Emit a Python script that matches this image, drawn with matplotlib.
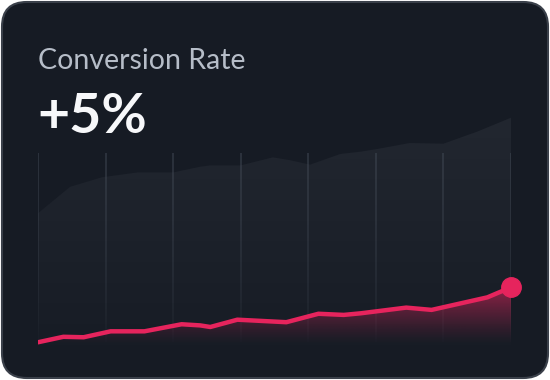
import numpy as np
import matplotlib
matplotlib.use('Agg')
import matplotlib.pyplot as plt
from matplotlib.patches import FancyBboxPatch
from matplotlib.collections import LineCollection

# Data (x = day, y = scaled value)
title = 'Conversion Rate'
headline = '+5%'

bg_days = [0, 1.9, 3.8, 5.9, 8.0, 9.6, 10.2, 12.0, 13.9, 14.9, 16.1, 17.9, 19.1, 20.1, 22.0, 24.0, 26.0, 28]
bg_values = [57.8, 69.4, 73.6, 75.7, 75.7, 78.2, 78.8, 78.8, 82.3, 81.1, 79.1, 83.8, 84.8, 86.0, 88.6, 88.3, 93.6, 99.7]

rate_days = [0, 1.5, 2.7, 4.3, 6.3, 8.5, 9.6, 10.2, 11.8, 14.7, 16.6, 18.1, 19.1, 21.8, 23.3, 26.6, 28]
rate_values = [1.2, 3.6, 3.4, 6.0, 6.0, 9.1, 8.6, 7.9, 11.1, 10.0, 13.7, 13.2, 13.9, 16.4, 15.4, 20.9, 25.3]

grid_days = [0, 4, 8, 12, 16, 20, 24, 28]

card_bg = '#161b24'
pink = '#e6245d'

W, H = 550, 380
fig = plt.figure(figsize=(W / 100, H / 100), dpi=100)
fig.patch.set_facecolor('white')

# card with rounded corners (kept behind the axes)
card = FancyBboxPatch((2 / W, 2 / H), (W - 4) / W, (H - 4) / H,
                      boxstyle='round,pad=0,rounding_size=0.045',
                      transform=fig.transFigure, facecolor=card_bg,
                      edgecolor='#3a404a', linewidth=1.5, mutation_aspect=W / H,
                      zorder=-10)
fig.patches.append(card)

fig.text(38 / W, 1 - 69 / H, title, color='#b6bdc8', fontsize=20.5,
         family='Lato', va='baseline', ha='left')
fig.text(37 / W, 1 - 133 / H, headline, color='#f7f8fa', fontsize=40,
         family='Lato', fontweight='bold', va='baseline', ha='left')

# plot area
left, right, top, bottom = 38, 511, 117, 345
ax = fig.add_axes([left / W, 1 - bottom / H, (right - left) / W, (bottom - top) / H])
ax.set_xlim(0, 28)
ax.set_ylim(0, 100)
ax.axis('off')
ax.patch.set_alpha(0)

# grey background area with vertical gradient
grad = np.linspace(0, 1, 256).reshape(-1, 1)
c_top = np.array([0x22, 0x27, 0x30]) / 255
c_bot = np.array([0x17, 0x1c, 0x25]) / 255
img = c_bot + (c_top - c_bot) * grad[..., None]
img = np.repeat(img, 2, axis=1)
poly = ax.fill_between(bg_days, 0, bg_values, color='none', linewidth=0)
im = ax.imshow(img, extent=[0, 28, 0, 100], origin='lower', aspect='auto', zorder=1)
im.set_clip_path(poly.get_paths()[0], transform=ax.transData)

# vertical grid lines fading toward the bottom
segs, cols = [], []
ys = np.linspace(0, 84, 60)
for d in grid_days:
    for i in range(len(ys) - 1):
        segs.append([(d, ys[i]), (d, ys[i + 1])])
        a = 0.55 * (ys[i] / 84) ** 0.6
        cols.append((0.27, 0.30, 0.35, a))
ax.add_collection(LineCollection(segs, colors=cols, linewidths=1.2, zorder=2))

# pink gradient fill under the rate line
pink_rgb = np.array(matplotlib.colors.to_rgb(pink))
pg = np.zeros((256, 2, 4))
pg[..., :3] = pink_rgb
alpha = np.clip(np.linspace(0, 100, 256) / 25.3, 0, 1) ** 1.2 * 0.58
pg[..., 3] = alpha[:, None]
ppoly = ax.fill_between(rate_days, 0, rate_values, color='none', linewidth=0)
pim = ax.imshow(pg, extent=[0, 28, 0, 100], origin='lower', aspect='auto', zorder=3)
pim.set_clip_path(ppoly.get_paths()[0], transform=ax.transData)

ax.plot(rate_days, rate_values, color=pink, linewidth=3.2,
        solid_capstyle='round', solid_joinstyle='round', zorder=4)
ax.plot(rate_days[-1], rate_values[-1], 'o', color=pink, markersize=14,
        clip_on=False, zorder=5)

fig.savefig('out.png', dpi=100, facecolor=fig.get_facecolor())
